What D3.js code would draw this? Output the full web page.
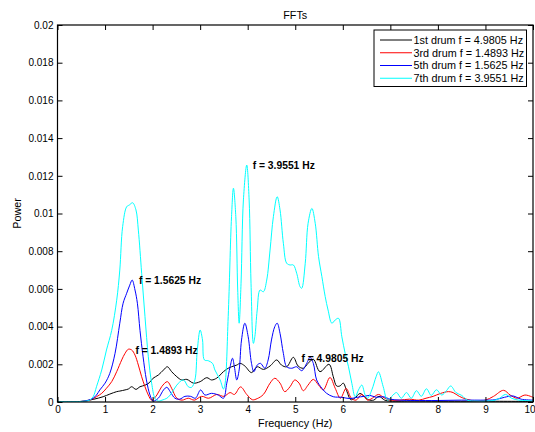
<!DOCTYPE html>
<html>
<head>
<meta charset="utf-8">
<script src="https://cdn.jsdelivr.net/npm/d3@7"></script>
<style>
  html, body { margin: 0; padding: 0; background: #fff; }
  svg { display: block; font-family: "Liberation Sans", Arial, sans-serif; }
</style>
</head>
<body>
<svg id="chart" width="535" height="432"></svg>
<script>
// ---------------- DATA ----------------
const seriesNames = ["1st drum f = 4.9805 Hz", "3rd drum f = 1.4893 Hz", "5th drum f = 1.5625 Hz", "7th drum f = 3.9551 Hz"];
const seriesColors = ["#000000", "#ff0000", "#0000ff", "#00ffff"];

// [frequency (Hz), power]
const drum1 = [[0,0.00002],[0.5,0.00003],[0.75,0.00014],[0.96,0.00028],[1.10,0.00042],[1.245,0.00055],[1.31,0.00058],[1.42,0.00064],[1.49,0.00069],[1.56,0.00081],[1.65,0.00067],[1.735,0.00081],[1.84,0.00089],[1.93,0.00102],[2.01,0.00126],[2.12,0.00143],[2.23,0.0017],[2.31,0.00187],[2.40,0.00161],[2.51,0.00134],[2.61,0.00117],[2.72,0.0012],[2.86,0.001],[3.0,0.00108],[3.14,0.00129],[3.24,0.00117],[3.35,0.00127],[3.49,0.00161],[3.59,0.00179],[3.66,0.00187],[3.77,0.00196],[3.84,0.00205],[3.94,0.00191],[4.08,0.00156],[4.20,0.00187],[4.33,0.00173],[4.47,0.00191],[4.61,0.00223],[4.71,0.00196],[4.82,0.00187],[4.96,0.00237],[5.06,0.00191],[5.17,0.00179],[5.27,0.00205],[5.38,0.00227],[5.52,0.00161],[5.71,0.002],[5.80,0.00134],[5.87,0.00085],[5.94,0.00085],[6.01,0.001],[6.08,0.0006],[6.17,0.00012],[6.25,0.0002],[6.36,0.00045],[6.45,0.0003],[6.54,0.00012],[6.65,0.0001],[6.76,0.0003],[6.88,0.0001],[7.0,0.00005],[7.5,0.00005],[8,0.00004],[9,0.00004],[10,0.00003]];

const drum3 = [[0,0.00002],[0.5,0.00003],[0.68,0.0001],[0.82,0.00028],[0.93,0.00046],[1.03,0.00073],[1.14,0.00108],[1.245,0.00161],[1.35,0.00223],[1.42,0.00258],[1.49,0.0028],[1.56,0.00276],[1.63,0.00249],[1.70,0.00196],[1.77,0.00134],[1.84,0.00081],[1.91,0.00037],[1.98,0.0001],[2.09,0.00037],[2.19,0.00081],[2.31,0.00108],[2.40,0.00073],[2.51,0.0002],[2.62,0.0001],[2.75,0.0002],[2.88,0.0001],[3.03,0.0003],[3.18,0.0002],[3.35,0.0004],[3.5,0.0003],[3.63,0.0005],[3.72,0.0004],[3.85,0.0008],[3.98,0.0004],[4.1,0.00012],[4.2,0.00018],[4.33,0.0004],[4.47,0.001],[4.57,0.00126],[4.68,0.001],[4.78,0.00055],[4.89,0.00081],[4.99,0.00117],[5.08,0.001],[5.17,0.0006],[5.27,0.0009],[5.38,0.0012],[5.49,0.0009],[5.59,0.00064],[5.73,0.0013],[5.84,0.00073],[5.95,0.0002],[6.07,0.00072],[6.18,0.0002],[6.28,0.0001],[6.4,0.0004],[6.52,0.0001],[6.62,0.0002],[6.75,0.0004],[6.88,0.0002],[7.0,0.0001],[7.2,0.0001],[7.4,0.00015],[7.6,0.0001],[7.75,0.0002],[7.9,0.0003],[8.05,0.00045],[8.22,0.00055],[8.32,0.0005],[8.45,0.0003],[8.6,0.00015],[8.8,0.00005],[9.0,0.0001],[9.17,0.0003],[9.38,0.00062],[9.52,0.00037],[9.66,0.0002],[9.83,0.00037],[9.97,0.00028],[10,0.00025]];

const drum5 = [[0,0.00002],[0.5,0.00003],[0.65,0.0001],[0.75,0.0002],[0.82,0.00037],[0.89,0.00064],[1.0,0.001],[1.10,0.00152],[1.21,0.00258],[1.31,0.00418],[1.38,0.00524],[1.455,0.00577],[1.52,0.0062],[1.57,0.00647],[1.63,0.00594],[1.68,0.00524],[1.735,0.0038],[1.80,0.0024],[1.87,0.00117],[1.945,0.00037],[2.01,0.00005],[2.12,0.0002],[2.23,0.00064],[2.30,0.00078],[2.37,0.00055],[2.47,0.0002],[2.57,0.00015],[2.68,0.0003],[2.8,0.0003],[2.9,0.0002],[3.01,0.00064],[3.10,0.00037],[3.24,0.00046],[3.38,0.00037],[3.49,0.0002],[3.56,0.001],[3.63,0.00187],[3.68,0.00232],[3.72,0.00187],[3.77,0.00117],[3.82,0.0017],[3.87,0.00329],[3.94,0.00418],[4.01,0.00346],[4.08,0.00205],[4.13,0.00161],[4.20,0.00196],[4.27,0.00205],[4.36,0.00179],[4.43,0.00223],[4.50,0.00329],[4.57,0.004],[4.62,0.00418],[4.68,0.00364],[4.75,0.00258],[4.82,0.00187],[4.925,0.00179],[5.03,0.00187],[5.135,0.00166],[5.24,0.00205],[5.31,0.00237],[5.38,0.00205],[5.45,0.00117],[5.56,0.00073],[5.66,0.00046],[5.80,0.00028],[5.98,0.00025],[6.15,0.00018],[6.3,0.00025],[6.45,0.0003],[6.57,0.00035],[6.7,0.00025],[6.85,0.00028],[7.0,0.00015],[7.2,0.0001],[7.5,0.00008],[8,0.00008],[8.5,0.0001],[9.0,0.0001],[9.2,0.00012],[9.4,0.00025],[9.58,0.00032],[9.75,0.00015],[10,0.0001]];

const drum7 = [[0,0.00003],[0.5,0.00003],[0.68,0.0001],[0.75,0.00028],[0.82,0.00081],[0.93,0.0017],[1.03,0.00276],[1.14,0.0038],[1.245,0.0054],[1.31,0.007],[1.37,0.0093],[1.455,0.01036],[1.51,0.01045],[1.58,0.01057],[1.65,0.01019],[1.70,0.00912],[1.77,0.00683],[1.84,0.00453],[1.91,0.0024],[1.98,0.001],[2.05,0.0002],[2.12,0.00005],[2.2,0.0001],[2.3,0.0002],[2.37,0.00037],[2.54,0.00099],[2.65,0.00117],[2.75,0.00081],[2.82,0.00078],[2.89,0.00117],[2.94,0.00276],[3.0,0.00382],[3.05,0.00329],[3.09,0.00223],[3.17,0.00219],[3.26,0.00205],[3.31,0.0017],[3.42,0.00117],[3.49,0.00069],[3.52,0.0009],[3.59,0.00453],[3.66,0.00983],[3.70,0.01134],[3.75,0.00983],[3.79,0.00594],[3.82,0.00418],[3.86,0.0063],[3.91,0.01072],[3.98,0.01257],[4.03,0.01072],[4.07,0.0063],[4.12,0.00311],[4.15,0.00346],[4.20,0.00488],[4.26,0.00594],[4.33,0.00585],[4.40,0.00647],[4.47,0.00806],[4.54,0.00983],[4.62,0.01089],[4.68,0.01019],[4.75,0.00842],[4.82,0.00736],[4.89,0.00727],[4.96,0.00727],[5.03,0.00683],[5.10,0.00612],[5.135,0.00603],[5.21,0.00736],[5.27,0.00948],[5.35,0.01027],[5.42,0.00948],[5.49,0.00771],[5.56,0.00665],[5.63,0.00559],[5.69,0.00488],[5.77,0.00418],[5.84,0.00435],[5.91,0.00444],[5.98,0.00346],[6.05,0.00258],[6.12,0.00187],[6.19,0.00099],[6.26,0.00028],[6.33,0.00064],[6.40,0.0009],[6.47,0.00037],[6.52,0.0002],[6.61,0.00064],[6.70,0.00134],[6.75,0.0016],[6.85,0.00081],[6.94,0.0001],[7.03,0.0003],[7.13,0.0005],[7.23,0.0002],[7.34,0.0005],[7.44,0.0002],[7.55,0.0006],[7.65,0.0003],[7.76,0.0007],[7.86,0.00035],[7.97,0.00065],[8.08,0.00037],[8.18,0.0006],[8.27,0.00085],[8.38,0.0005],[8.5,0.00035],[8.62,0.0001],[8.8,0.00005],[9.0,0.00005],[9.2,0.0001],[9.3,0.0002],[9.42,0.0004],[9.55,0.0002],[9.7,0.0001],[9.85,0.00008],[10,0.00005]];

const allSeries = [drum1, drum3, drum5, drum7];

// peak annotations
const peakFreqs = [4.9805, 1.4893, 1.5625, 3.9551];
const peakPowers = [0.00232, 0.00276, 0.00647, 0.01257];
const peakLabels = ["f = 4.9805 Hz", "f = 1.4893 Hz", "f = 1.5625 Hz", "f = 3.9551 Hz"];

const xTicks = [0,1,2,3,4,5,6,7,8,9,10];
const xTickLabels = ["0","1","2","3","4","5","6","7","8","9","10"];
const yTicks = [0,0.002,0.004,0.006,0.008,0.01,0.012,0.014,0.016,0.018,0.02];
const yTickLabels = ["0","0.002","0.004","0.006","0.008","0.01","0.012","0.014","0.016","0.018","0.02"];

const titleText = "FFTs";
const xLabelText = "Frequency (Hz)";
const yLabelText = "Power";

// ---------------- LAYOUT ----------------
const L = 57.5, R = 533, T = 25, B = 402;
const svg = d3.select("#chart");
const x = d3.scaleLinear().domain([0, 10]).range([L, R]);
const y = d3.scaleLinear().domain([0, 0.02]).range([B, T]);

svg.append("rect").attr("x", 0).attr("y", 0).attr("width", 535).attr("height", 432).attr("fill", "#fff");

svg.append("defs").append("clipPath").attr("id", "plotclip")
  .append("rect").attr("x", L).attr("y", T).attr("width", R - L).attr("height", B - T);

// curves
const line = d3.line()
  .x(d => x(d[0]))
  .y(d => y(Math.max(0, d[1])))
  .curve(d3.curveCatmullRom.alpha(0.5));

const plot = svg.append("g").attr("clip-path", "url(#plotclip)");
allSeries.forEach((s, i) => {
  plot.append("path")
    .attr("d", line(s))
    .attr("fill", "none")
    .attr("stroke", seriesColors[i])
    .attr("stroke-width", 1);
});

// axes (inward ticks on all 4 sides)
const tick = 5;
const gB = svg.append("g").attr("transform", `translate(0,${B})`)
  .call(d3.axisBottom(x).tickValues(xTicks).tickFormat((d, i) => xTickLabels[i]).tickSizeInner(-tick).tickSizeOuter(0).tickPadding(4));
const gT = svg.append("g").attr("transform", `translate(0,${T})`)
  .call(d3.axisTop(x).tickValues(xTicks).tickFormat("").tickSizeInner(-tick).tickSizeOuter(0));
const gL = svg.append("g").attr("transform", `translate(${L},0)`)
  .call(d3.axisLeft(y).tickValues(yTicks).tickFormat((d, i) => yTickLabels[i]).tickSizeInner(-tick).tickSizeOuter(0).tickPadding(4));
const gR = svg.append("g").attr("transform", `translate(${R},0)`)
  .call(d3.axisRight(y).tickValues(yTicks).tickFormat("").tickSizeInner(-tick).tickSizeOuter(0));

[gB, gT, gL, gR].forEach(g => {
  g.select(".domain").remove();
  g.selectAll("line").attr("stroke", "#000").attr("stroke-width", 1);
  g.selectAll("text").attr("fill", "#000").style("font-size", "10px")
    .style("font-family", '"Liberation Sans", Arial, sans-serif');
});
gB.selectAll("text").attr("dy", "0.71em");
// keep the last label ("10") inside the window
gB.selectAll("text").filter(d => d === 10).attr("text-anchor", "end").attr("x", 535 - R);

// frame
svg.append("rect").attr("x", L).attr("y", T).attr("width", R - L).attr("height", B - T)
  .attr("fill", "none").attr("stroke", "#000").attr("stroke-width", 1.2);

// peak labels
peakLabels.forEach((t, i) => {
  svg.append("text")
    .attr("x", x(peakFreqs[i] + 0.15))
    .attr("y", y(peakPowers[i]))
    .attr("dy", "0.35em")
    .style("font-size", "10.3px")
    .style("font-weight", "bold")
    .text(t);
});

// title & axis labels
svg.append("text").attr("x", (L + R) / 2).attr("y", 15).attr("dy", "0.35em")
  .attr("text-anchor", "middle").style("font-size", "10.8px").text(titleText);
svg.append("text").attr("x", (L + R) / 2).attr("y", 423.5).attr("dy", "0.35em")
  .attr("text-anchor", "middle").style("font-size", "10.8px").text(xLabelText);
svg.append("text").attr("transform", `translate(17,${(T + B) / 2}) rotate(-90)`)
  .attr("dy", "0.35em").attr("text-anchor", "middle").style("font-size", "10.8px").text(yLabelText);

// legend
const lg = svg.append("g");
lg.append("rect").attr("x", 374).attr("y", 30).attr("width", 152.5).attr("height", 56.5)
  .attr("fill", "#fff").attr("stroke", "#000").attr("stroke-width", 1);
seriesNames.forEach((n, i) => {
  const yy = 40 + i * 12.75;
  lg.append("line").attr("x1", 380).attr("x2", 412).attr("y1", yy).attr("y2", yy)
    .attr("stroke", seriesColors[i]).attr("stroke-width", 1);
  lg.append("text").attr("x", 413.5).attr("y", yy).attr("dy", "0.35em")
    .style("font-size", "10.8px").text(n);
});
</script>
</body>
</html>
